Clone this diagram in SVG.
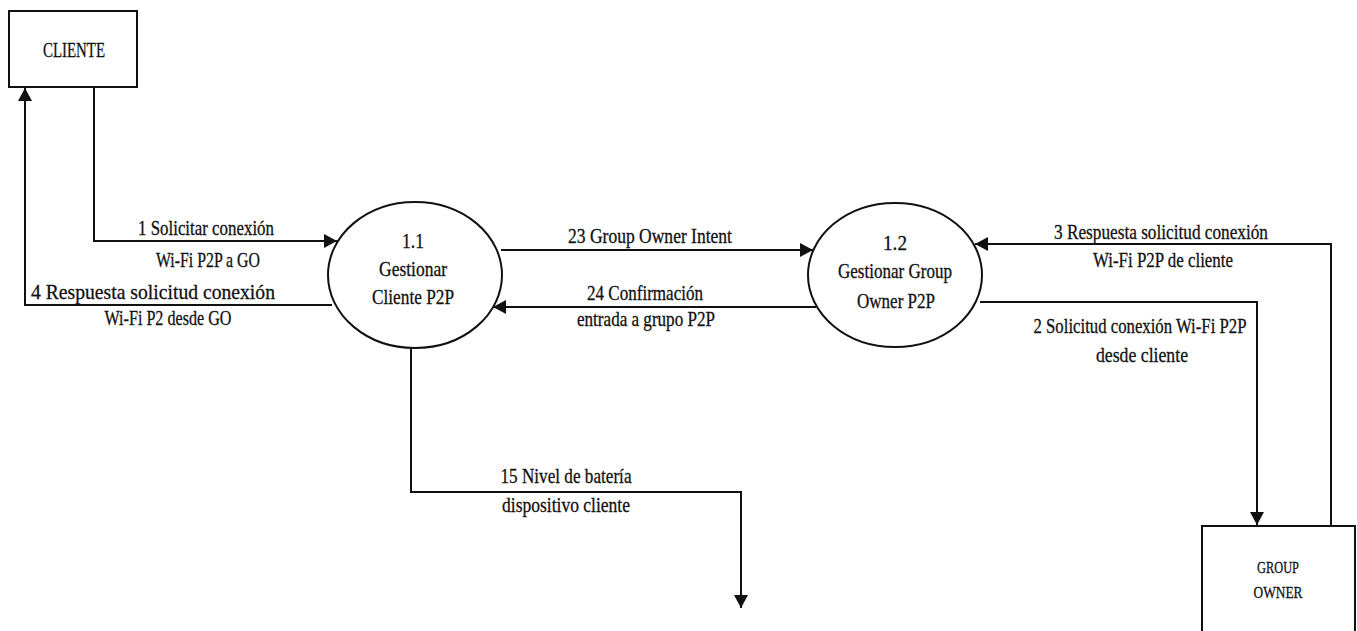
<svg xmlns="http://www.w3.org/2000/svg" width="1357" height="631" viewBox="0 0 1357 631">
<style>
.box{fill:#fff;stroke:#111;stroke-width:2}
.proc{fill:#fff;stroke:#111;stroke-width:2}
.flow{fill:none;stroke:#111;stroke-width:2}
.t{font-family:'Liberation Serif', 'Times New Roman', serif;fill:#111;text-anchor:middle;font-size:21px;stroke:#111;stroke-width:0.3}
.sm{font-size:17px}
.lg{font-size:22px}
</style>
<defs>
<marker id="ah" markerUnits="userSpaceOnUse" markerWidth="14" markerHeight="14" refX="13" refY="7" orient="auto">
<path d="M0,0 L13,7 L0,14 z" fill="#111"/>
</marker>
</defs>
<rect width="1357" height="631" fill="#fff"/>
<g id="connectors">
<path class="flow" d="M94,87 V241 H337" marker-end="url(#ah)"/>
<path class="flow" d="M332,305 H25 V88" marker-end="url(#ah)"/>
<path class="flow" d="M501,250 H813" marker-end="url(#ah)"/>
<path class="flow" d="M816,307 H493" marker-end="url(#ah)"/>
<path class="flow" d="M1331,526 V244 H975" marker-end="url(#ah)"/>
<path class="flow" d="M980,302 H1257 V525" marker-end="url(#ah)"/>
<path class="flow" d="M411,348 V492 H741 V608" marker-end="url(#ah)"/>
<text class="t" x="206" y="235" textLength="136" lengthAdjust="spacingAndGlyphs">1 Solicitar conexión</text>
<text class="t" x="208" y="267" textLength="104" lengthAdjust="spacingAndGlyphs">Wi-Fi P2P a GO</text>
<text class="t" x="153" y="299" textLength="244" lengthAdjust="spacingAndGlyphs">4 Respuesta solicitud conexión</text>
<text class="t" x="168" y="325" textLength="127" lengthAdjust="spacingAndGlyphs">Wi-Fi P2 desde GO</text>
<text class="t" x="650" y="243" textLength="164" lengthAdjust="spacingAndGlyphs">23 Group Owner Intent</text>
<text class="t" x="645" y="300" textLength="116" lengthAdjust="spacingAndGlyphs">24 Confirmación</text>
<text class="t" x="646" y="326" textLength="138" lengthAdjust="spacingAndGlyphs">entrada a grupo P2P</text>
<text class="t" x="1161" y="239" textLength="214" lengthAdjust="spacingAndGlyphs">3 Respuesta solicitud conexión</text>
<text class="t" x="1163" y="267" textLength="140" lengthAdjust="spacingAndGlyphs">Wi-Fi P2P de cliente</text>
<text class="t" x="1140" y="333" textLength="213" lengthAdjust="spacingAndGlyphs">2 Solicitud conexión Wi-Fi P2P</text>
<text class="t" x="1142" y="362" textLength="92" lengthAdjust="spacingAndGlyphs">desde cliente</text>
<text class="t" x="566" y="483" textLength="131" lengthAdjust="spacingAndGlyphs">15 Nivel de batería</text>
<text class="t" x="566" y="512" textLength="128" lengthAdjust="spacingAndGlyphs">dispositivo cliente</text>
</g>
<g id="cliente">
<rect class="box" x="9" y="11" width="128" height="76"/>
<text class="t lg" x="74" y="57" textLength="62" lengthAdjust="spacingAndGlyphs">CLIENTE</text>
</g>
<g id="p1_1">
<ellipse class="proc" cx="415" cy="275" rx="87" ry="73"/>
<text class="t" x="413" y="248" textLength="22" lengthAdjust="spacingAndGlyphs">1.1</text>
<text class="t" x="413" y="276" textLength="68" lengthAdjust="spacingAndGlyphs">Gestionar</text>
<text class="t" x="413" y="304" textLength="82" lengthAdjust="spacingAndGlyphs">Cliente P2P</text>
</g>
<g id="p1_2">
<ellipse class="proc" cx="895" cy="275" rx="87" ry="72"/>
<text class="t" x="895" y="250" textLength="24" lengthAdjust="spacingAndGlyphs">1.2</text>
<text class="t" x="895" y="278" textLength="114" lengthAdjust="spacingAndGlyphs">Gestionar Group</text>
<text class="t" x="896" y="308" textLength="78" lengthAdjust="spacingAndGlyphs">Owner P2P</text>
</g>
<g id="group_owner">
<rect class="box" x="1202" y="526" width="153" height="120"/>
<text class="t sm" x="1278" y="573" textLength="42" lengthAdjust="spacingAndGlyphs">GROUP</text>
<text class="t sm" x="1278" y="598" textLength="49" lengthAdjust="spacingAndGlyphs">OWNER</text>
</g>
</svg>
